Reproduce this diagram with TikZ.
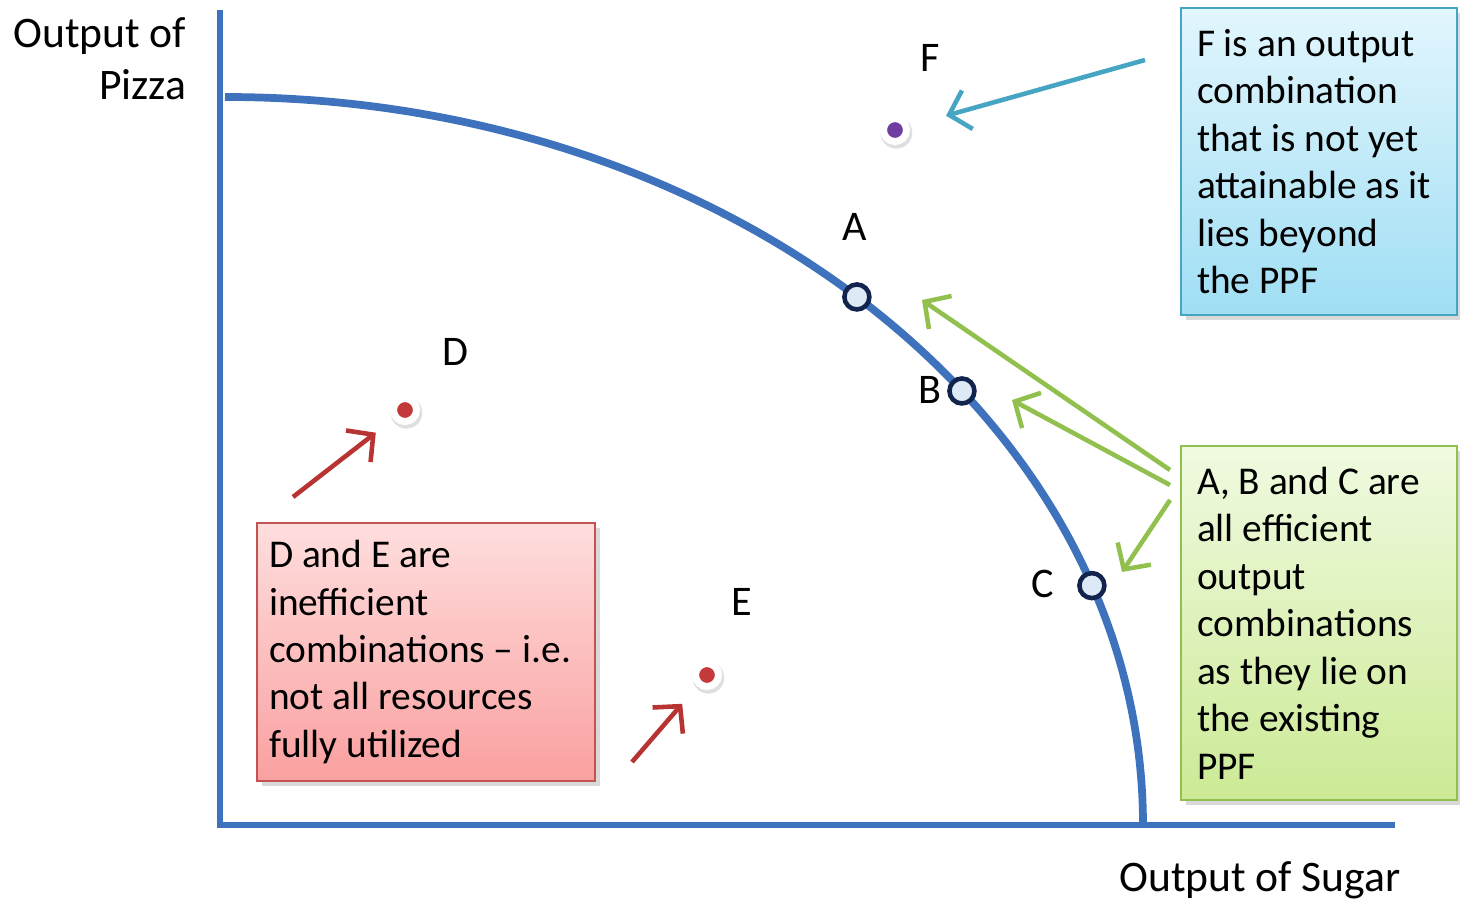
\documentclass[tikz,border=0pt]{standalone}
\usepackage{fontspec}
\setmainfont{Carlito}
\usetikzlibrary{arrows.meta,shadows}
\definecolor{ppfBlue}{RGB}{62,114,188}
\definecolor{navyEdge}{RGB}{18,36,78}
\definecolor{ptFill}{RGB}{222,233,246}
\definecolor{skyArr}{RGB}{70,165,195}
\definecolor{leafArr}{RGB}{146,192,78}
\definecolor{brickArr}{RGB}{184,52,50}
\definecolor{dotRed}{RGB}{196,58,58}
\definecolor{dotPurple}{RGB}{112,62,162}
\definecolor{skyTop}{RGB}{226,246,253}
\definecolor{skyBot}{RGB}{160,222,244}
\definecolor{leafTop}{RGB}{240,250,224}
\definecolor{leafBot}{RGB}{204,234,150}
\definecolor{roseTop}{RGB}{255,222,222}
\definecolor{roseBot}{RGB}{250,160,160}

\begin{document}
\begin{tikzpicture}[
  axisln/.style={draw=ppfBlue, line width=1.8pt},
  ppf/.style={draw=ppfBlue, line width=2.2pt},
  onppf/.style={circle, draw=navyEdge, line width=1.3pt, fill=ptFill, minimum size=0.25cm, inner sep=0pt},
  combo/.style={circle, draw=white, line width=0.07cm, minimum size=0.23cm, inner sep=0pt,
                drop shadow={shadow xshift=0.01cm, shadow yshift=-0.02cm, shadow scale=1.38, opacity=0.25}},
  ptlab/.style={font=\fontsize{12}{14}\selectfont},
  axlab/.style={font=\fontsize{12.4}{14.8}\selectfont, inner sep=0pt},
  note/.style={line width=0.8pt, align=flush left, inner xsep=0.16cm, font=\fontsize{11.2}{13.5}\selectfont,
               drop shadow={shadow xshift=0.05cm, shadow yshift=-0.05cm, opacity=0.3}},
  arr/.style={-{Straight Barb[length=1.9mm, width=4mm]}, line width=1.3pt}
]
  \useasboundingbox (0,0) rectangle (14.6,9);

  % axes and frontier
  \coordinate (orig) at (2.20,0.75);
  \draw[axisln] (2.20,8.90) -- (orig) -- (13.95,0.75);
  \draw[ppf] (2.25,8.03) arc[start angle=90, end angle=0, x radius=9.18, y radius=7.28];
  \node[axlab, anchor=east, align=right] (ylab) at (1.87,8.41) {Output of\\Pizza};
  \node[axlab] (xlab) at (12.60,0.20) {Output of Sugar};

  % points on the PPF
  \node[onppf] (ptA) at ({2.25+9.18*cos(46.5)},{0.75+7.28*sin(46.5)}) {};
  \node[onppf] (ptB) at ({2.25+9.18*cos(36.6)},{0.75+7.28*sin(36.6)}) {};
  \node[onppf] (ptC) at ({2.25+9.18*cos(19.2)},{0.75+7.28*sin(19.2)}) {};
  \node[ptlab] (labA) at (8.55,6.73) {A};
  \node[ptlab] (labB) at (9.30,5.10) {B};
  \node[ptlab] (labC) at (10.43,3.16) {C};

  % points off the PPF
  \node[combo, fill=dotPurple] (dotF) at (8.95,7.70) {};
  \node[combo, fill=dotRed] (dotD) at (4.05,4.90) {};
  \node[combo, fill=dotRed] (dotE) at (7.07,2.25) {};
  \node[ptlab] (labF) at (9.30,8.42) {F};
  \node[ptlab] (labD) at (4.55,5.48) {D};
  \node[ptlab] (labE) at (7.42,2.98) {E};

  % notes
  \node[note, draw=skyArr, top color=skyTop, bottom color=skyBot, text width=2.44cm, minimum height=3.07cm] (fbox) at (13.19,7.385)
    {F is an output\\combination\\that is not yet\\attainable as it\\lies beyond\\the PPF};
  \node[note, draw=leafArr, top color=leafTop, bottom color=leafBot, text width=2.44cm, minimum height=3.54cm] (abcbox) at (13.19,2.77)
    {A, B and C are\\all efficient\\output\\combinations\\as they lie on\\the existing\\PPF};
  \node[note, draw=brickArr!85, top color=roseTop, bottom color=roseBot, inner xsep=0.12cm, text width=3.14cm, minimum height=2.58cm] (debox) at (4.26,2.48)
    {D and E are\\inefficient\\combinations -- i.e.\\not all resources\\fully utilized};

  % arrows
  \coordinate (fsrc) at (11.45,8.40);
  \coordinate (asrc) at (11.70,4.30);
  \coordinate (bsrc) at (11.70,4.15);
  \coordinate (csrc) at (11.70,4.00);
  \coordinate (aend) at (9.22,6.00);
  \coordinate (bend) at (10.12,5.00);
  \coordinate (cend) at (11.22,3.28);
  \coordinate (dsrc) at (2.93,4.03);
  \coordinate (esrc) at (6.32,1.38);
  \draw[arr, skyArr, shorten >=0.38cm] (fsrc) -- (dotF);
  \draw[arr, leafArr] (asrc) -- (aend);
  \draw[arr, leafArr] (bsrc) -- (bend);
  \draw[arr, leafArr] (csrc) -- (cend);
  \draw[arr, brickArr, shorten >=0.22cm] (dsrc) -- (dotD);
  \draw[arr, brickArr, shorten >=0.23cm] (esrc) -- (dotE);
\end{tikzpicture}
\end{document}
